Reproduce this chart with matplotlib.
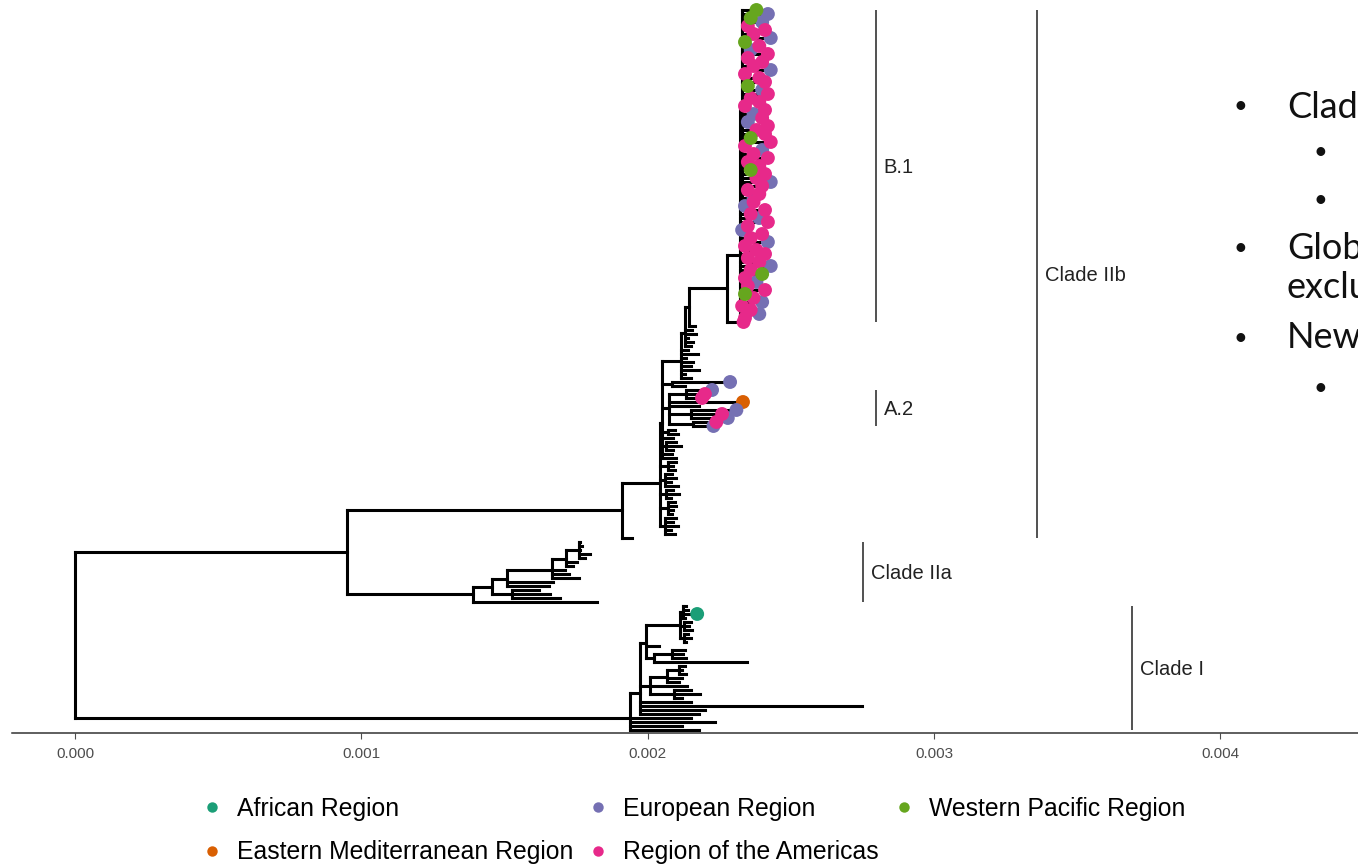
import matplotlib
matplotlib.use("Agg")
import matplotlib.pyplot as plt
from matplotlib.collections import LineCollection
from matplotlib.lines import Line2D
import numpy as np

# ---------------- data ----------------
# Divergence (root-to-node distance) in units of 1e-5 substitutions/site,
# written as a Newick-like tree where the number after ':' is the absolute depth.
# Tip labels are WHO region codes (x = no region shown).
region_codes = ["f", "m", "e", "a", "w"]
region_names = ["African Region", "Eastern Mediterranean Region", "European Region",
                "Region of the Americas", "Western Pacific Region"]
region_colors = ["#1B9E77", "#D95F02", "#7570B3", "#E7298A", "#66A61E"]

b1_core = ("(w:238,e:242,w:236,e:240,a:235,a:241,a:237,e:243,w:234,a:239,"
           "e:236,a:242,a:235,a:240,a:237,e:243,a:234,a:239,a:241,w:235,"
           "e:240,a:242,a:236,a:239,a:234,a:241,e:237,a:240,e:235,a:242,"
           "a:238,a:241,w:236,a:243,a:234,e:240,a:237,a:242,a:235,a:239,"
           "w:236,a:241,a:238,e:243,a:240,a:235,a:239,e:237):232.8")
b1_cluster = ("(" + b1_core + ",a:237,e:234,a:241,a:236,e:239,a:242,a:235,e:233,a:240,a:236,"
              "e:242,a:234,a:238,a:241,a:235,a:239,e:243,a:236,w:240,a:234,"
              "e:238,a:235,a:241,w:234,a:237,e:240,a:233,a:236,e:239,a:234):232.3")
b1_clade = "(" + b1_cluster + ",a:233.5):227.7"
p4 = "(" + b1_clade + ",x:216.5):214.5"
p3 = "(" + p4 + ",x:215.5,x:217,x:214,x:216,x:215):213"
p2 = "(" + p3 + ",x:214,x:217.5,x:213.5,x:216,x:215,x:218,x:213,x:215):211.5"
a1 = "(e:228.8,x:213):208.5"
a2_clade = ("((e:222.5,a:220,a:219):213.5,m:233.3,x:218,(e:231,a:226,e:228):215,"
            "(a:224,e:223):216):207.5")
n1 = ("(" + p2 + "," + a1 + "," + a2_clade +
      ",(x:209.5,x:210.5):207,x:209,(x:210,x:211.5,x:209):206.5,x:208.5,x:210):205")
n0 = ("(" + n1 + ",(x:210,x:209,x:209.5):207,(x:208.5,x:210,x:208,x:210.5):206,"
      "(x:209,x:211,x:208):206.5,(x:209.5,x:210,x:209,x:208.5):207,"
      "(x:210,x:209,x:210.5,x:208,x:209.5):206):204.3")
clade_IIb = "(" + n0 + ",x:194.5):191"

iia_g = "(x:176.3,x:177,x:176.5,x:180,x:178):176"
iia_f = "(" + iia_g + ",x:175.5,x:174):171.5"
iia_e = "(" + iia_f + ",x:171,x:172.5,x:176):166.5"
iia_c = "(" + iia_e + ",x:167,x:165.5):151"
iia_d = "(x:162,x:166,x:169.4):152.5"
clade_IIa = "((" + iia_c + "," + iia_d + "):145.7,x:182.3):139"

ci_t = ("((x:213.5,x:214,f:217.3,x:213):212.4,(x:215,x:214.5,x:215.5):212.8,"
        "(x:214,x:215,x:213.5):212.6):211.3")
ci_v = "((x:213,x:212.5,x:213.5):208.5,x:234.7):202.2"
ci_u = "(" + ci_t + ",x:204," + ci_v + "):199.4"
ci_y = "((x:213,x:212,x:213.5):211,x:212,x:211):206.8"
ci_z = "(x:215,x:218.3,x:212):209.3"
ci_x = "(" + ci_y + ",x:213.8," + ci_z + "):200.8"
ci_k = "(" + ci_u + "," + ci_x + ",x:215,x:274.9,x:220,x:218):197.4"
clade_I = "(" + ci_k + ",x:215,x:223.5,x:212,x:218):193.9"

tree_newick = "((" + clade_IIb + "," + clade_IIa + "):95," + clade_I + "):0;"

# clade annotations: name, first tip index, last tip index
clade_names = ["B.1", "A.2", "Clade IIb", "Clade IIa", "Clade I"]
clade_first_tip = [0, 95, 0, 133, 149]
clade_last_tip = [78, 104, 132, 148, 180]
xtick_values = [0.000, 0.001, 0.002, 0.003, 0.004]

# annotation bar positions (divergence units)
clade_bar_x = [0.002798, 0.002798, 0.00336, 0.002752, 0.003692]

# ---------------- parse & layout ----------------
def parse_newick(s):
    s = s.strip().rstrip(";")
    pos = 0

    def node():
        nonlocal pos
        children = []
        if s[pos] == "(":
            pos += 1
            children.append(node())
            while s[pos] == ",":
                pos += 1
                children.append(node())
            pos += 1  # ')'
        start = pos
        while pos < len(s) and s[pos] not in ":,()":
            pos += 1
        label = s[start:pos]
        depth = 0.0
        if pos < len(s) and s[pos] == ":":
            pos += 1
            start = pos
            while pos < len(s) and s[pos] not in ",()":
                pos += 1
            depth = float(s[start:pos])
        return {"label": label, "x": depth * 1e-5, "children": children}

    return node()


root = parse_newick(tree_newick)
tips = []


def layout(nd):
    if not nd["children"]:
        nd["y"] = float(len(tips))
        tips.append(nd)
    else:
        for c in nd["children"]:
            layout(c)
        nd["y"] = float(np.mean([c["y"] for c in nd["children"]]))


layout(root)

segments = []


def collect(nd):
    if nd["children"]:
        ys = [c["y"] for c in nd["children"]]
        segments.append([(nd["x"], min(ys)), (nd["x"], max(ys))])
        for c in nd["children"]:
            segments.append([(nd["x"], c["y"]), (c["x"], c["y"])])
            collect(c)


collect(root)

# ---------------- figure ----------------
W, H = 1358, 865
fig = plt.figure(figsize=(W / 100, H / 100), dpi=100)
ax = fig.add_axes([12 / W, (H - 733) / H, (W - 12) / W, 733 / H])

lc = LineCollection(segments, colors="black", linewidths=2.2, capstyle="projecting")
ax.add_collection(lc)

for code, name, col in zip(region_codes, region_names, region_colors):
    pts = [(t["x"], t["y"]) for t in tips if t["label"] == code]
    if pts:
        xs, ys = zip(*pts)
        ax.scatter(xs, ys, s=100, color=col, edgecolors="none", zorder=3)

# clade labels
for name, i0, i1, bx in zip(clade_names, clade_first_tip, clade_last_tip, clade_bar_x):
    ax.plot([bx, bx], [i0 - 0.1, i1 + 0.1], color="#222222", lw=1.1, solid_capstyle="butt")
    ax.text(bx + 0.000027, (i0 + i1) / 2 + 0.4, name, fontsize=14.5, family="Liberation Sans",
            color="#222222", va="center", ha="left")

ax.set_xlim(-0.00022, 0.004481)
ax.set_ylim(180.75, -2.5)
for sp in ["top", "right", "left"]:
    ax.spines[sp].set_visible(False)
ax.spines["bottom"].set_color("#333333")
ax.spines["bottom"].set_linewidth(1.1)
ax.set_yticks([])
ax.set_xticks(xtick_values)
ax.set_xticklabels([f"{v:.3f}" for v in xtick_values])
ax.tick_params(axis="x", length=4, width=0.8, color="#4d4d4d", labelcolor="#4d4d4d",
               labelsize=11, pad=6)
for lab in ax.get_xticklabels():
    lab.set_family("Liberation Sans")

# legend (order fills column-wise)
order = [0, 1, 2, 3, 4]
handles = [Line2D([0], [0], marker="o", linestyle="none", markersize=7.5,
                  markerfacecolor=region_colors[i], markeredgecolor="none") for i in order]
labels = [region_names[i] for i in order]
fig.legend(handles, labels, ncol=3, loc="upper left",
           bbox_to_anchor=(202 / W, 1 - 797 / H), frameon=False,
           prop={"family": "Liberation Sans", "size": 17.8},
           handlelength=0.8, handletextpad=0.62, columnspacing=0.6,
           labelspacing=0.78, borderpad=0, borderaxespad=0)

# slide text on the right (cut at the edge, as in the source slide)
slide_font = "Lato"
fs = 26
for (x, y, s) in [(1240, 107, "•"), (1287, 107, "Clade"),
                  (1320, 152, "•"), (1320, 200, "•"),
                  (1240, 248, "•"), (1287, 248, "Glob"),
                  (1287, 288, "exclu"),
                  (1240, 338, "•"), (1287, 338, "New"),
                  (1320, 388, "•")]:
    ha = "center" if s == "•" else "left"
    fig.text(x / W, 1 - y / H, s, fontsize=fs if s != "•" else 17, family=slide_font,
             color="#111111", ha=ha, va="center")

fig.savefig("out.png", dpi=100)
